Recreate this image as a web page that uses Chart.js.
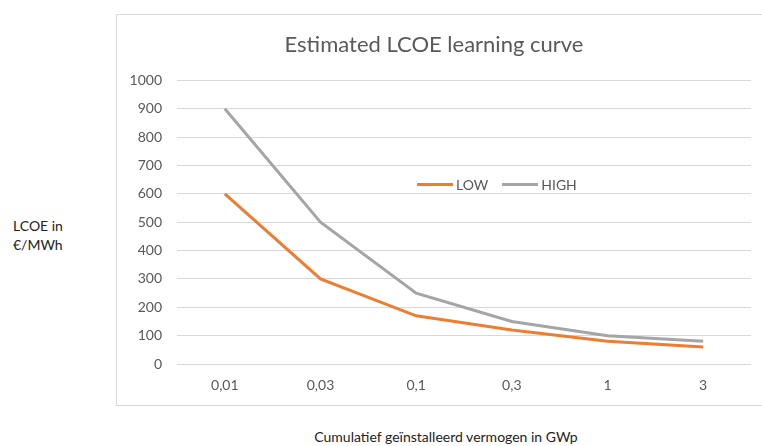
<!DOCTYPE html>
<html>
<head>
  <title>Estimated LCOE learning curve</title>
  <script src="https://cdn.jsdelivr.net/npm/chart.js"></script>
  <style>
    body {
      margin: 0;
      width: 762px;
      height: 446px;
      overflow: hidden;
      background: #fff;
      font-family: Lato, "Open Sans", sans-serif;
      position: relative;
    }

    .box {
      position: absolute;
      left: 116px;
      top: 14px;
      width: 700px;
      height: 390px;
      border: 1px solid #d9d9d9;
    }

    .chart-container {
      position: absolute;
      left: 0;
      top: 0;
      width: 645px;
      height: 390px;
    }

    .ylabel {
      position: absolute;
      left: 13px;
      top: 216px;
      font-size: 14px;
      line-height: 19px;
      color: #222;
    }

    .xlabel {
      position: absolute;
      left: 0;
      width: 892px;
      top: 428px;
      text-align: center;
      font-size: 14px;
      color: #222;
    }

    .legend {
      position: absolute;
      left: 300px;
      top: 161px;
      font-size: 14px;
      color: #595959;
      display: flex;
      align-items: center;
    }

    .legend span.item {
      display: flex;
      align-items: center;
      margin-right: 14px;
    }

    .legend span.swatch {
      display: inline-block;
      width: 36px;
      height: 3px;
      margin-right: 3px;
    }
  </style>
</head>
<body>
  <div class="ylabel">LCOE in<br />€/MWh</div>
  <div class="box">
    <div class="chart-container">
      <canvas id="chart" width="645" height="390"></canvas>
    </div>
    <div class="legend" id="legend"></div>
  </div>
  <div class="xlabel">Cumulatief geïnstalleerd vermogen in GWp</div>

  <script>
    var categories = ['0,01', '0,03', '0,1', '0,3', '1', '3'];
    var lowValues = [600, 300, 170, 120, 80, 60];
    var highValues = [900, 500, 250, 150, 100, 80];
    var seriesNames = ['LOW', 'HIGH'];
    var seriesColors = ['#ed7d31', '#a5a5a5'];

    var textColor = '#595959';
    var fontFamily = 'Lato, "Open Sans", sans-serif';

    var ctx = document.getElementById('chart').getContext('2d');
    var chart = new Chart(ctx, {
      type: 'line',
      data: {
        labels: categories,
        datasets: [{
          label: seriesNames[0],
          data: lowValues,
          borderColor: seriesColors[0],
          backgroundColor: seriesColors[0],
          borderWidth: 3,
          pointRadius: 0,
          fill: false,
          tension: 0
        }, {
          label: seriesNames[1],
          data: highValues,
          borderColor: seriesColors[1],
          backgroundColor: seriesColors[1],
          borderWidth: 3,
          pointRadius: 0,
          fill: false,
          tension: 0
        }]
      },
      options: {
        responsive: false,
        animation: false,
        layout: {
          padding: { left: 0, right: 11, top: 0, bottom: 0 }
        },
        plugins: {
          legend: { display: false },
          tooltip: { enabled: false },
          title: {
            display: true,
            text: 'Estimated LCOE learning curve',
            color: textColor,
            font: { family: fontFamily, size: 22, weight: 'normal' },
            padding: { top: 17, bottom: 22 }
          }
        },
        scales: {
          x: {
            offset: true,
            grid: { display: false, drawTicks: false },
            border: { display: false },
            ticks: {
              color: textColor,
              font: { family: fontFamily, size: 14 },
              padding: 13,
              maxRotation: 0
            },
            afterFit: function (scale) { scale.height = 41; }
          },
          y: {
            min: 0,
            max: 1000,
            grid: { color: '#d9d9d9', drawTicks: false },
            border: { display: false },
            ticks: {
              stepSize: 100,
              color: textColor,
              font: { family: fontFamily, size: 14 },
              padding: 15,
              callback: function (v) { return String(v); }
            },
            afterFit: function (scale) { scale.width = 60; }
          }
        }
      }
    });

    // legend built from the dataset names and colours
    var legend = document.getElementById('legend');
    chart.data.datasets.forEach(function (ds) {
      var item = document.createElement('span');
      item.className = 'item';
      var sw = document.createElement('span');
      sw.className = 'swatch';
      sw.style.background = ds.borderColor;
      item.appendChild(sw);
      item.appendChild(document.createTextNode(ds.label));
      legend.appendChild(item);
    });
  </script>
</body>
</html>
